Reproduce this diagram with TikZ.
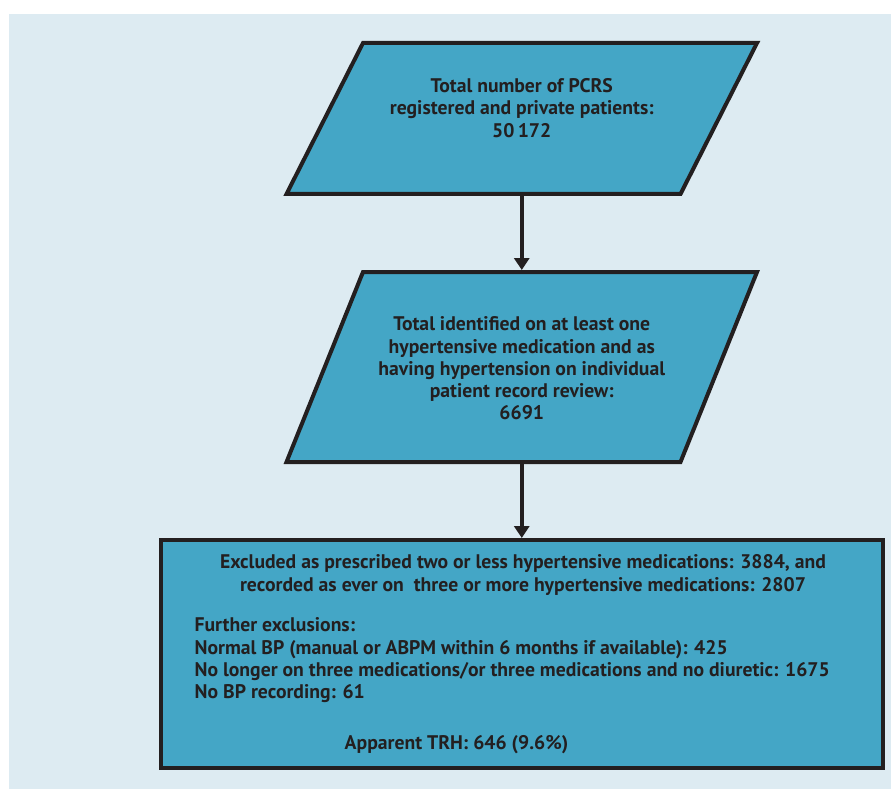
\documentclass[tikz,border=0pt]{standalone}
\usepackage{fontspec}
\setmainfont{PT Sans}
\usepackage{tikz}
\usetikzlibrary{arrows.meta}

\begin{document}
\begin{tikzpicture}[
    flowbox/.style={fill=boxblue, draw=boxline, line width=0.080000cm, line join=miter},
    hidden/.style={inner sep=0pt, outer sep=0pt},
    boxtext/.style={text=boxline, align=center, inner sep=0pt, font=\fontsize{11.2}{12.7}\selectfont\bfseries},
    flowarrow/.style={draw=boxline, line width=0.080000cm, shorten >=0.040000cm, -{Triangle[length=0.240000cm,width=0.300000cm]}}
]
                        % \clip (0,0) rectangle (17.820000,15.780000);
                        \useasboundingbox (0.000000,0.000000) rectangle (17.820000,15.780000);
                        {

                        % Changing colors
                        \definecolor{pagebg}{rgb}{0.866667,0.921569,0.949020}%
                        \definecolor{boxblue}{rgb}{0.266667,0.650980,0.776471}%
                        \definecolor{boxline}{rgb}{0.137255,0.121569,0.125490}%

                        % Drawing background
                        \fill [white] (0.000000,0.000000) rectangle (17.820000,15.780000);%
                        \fill [pagebg] (0.180000,0.000000) rectangle (17.820000,15.500000);%

                        % Drawing parallelogram pcrs
                        \node [hidden, minimum width=7.880000cm, minimum height=3.020000cm] (pcrs) at (10.435000,13.410000) {};%
                        \draw [flowbox] ([xshift=0.765000cm]pcrs.north west) -- ([xshift=0.765000cm]pcrs.north east) -- ([xshift=-0.765000cm]pcrs.south east) -- ([xshift=-0.765000cm]pcrs.south west) -- cycle;%
                        \node [boxtext] (pcrstext) at (10.435000,13.620000) {Total number of PCRS\\registered and private patients:\\50\,172};%

                        % Drawing parallelogram hyper
                        \node [hidden, minimum width=7.880000cm, minimum height=3.800000cm] (hyper) at (10.435000,8.440000) {};%
                        \draw [flowbox] ([xshift=0.765000cm]hyper.north west) -- ([xshift=0.765000cm]hyper.north east) -- ([xshift=-0.765000cm]hyper.south east) -- ([xshift=-0.765000cm]hyper.south west) -- cycle;%
                        \node [boxtext] (hypertext) at (10.435000,8.410000) {Total identified on at least one\\hypertensive medication and as\\having hypertension on individual\\patient record review:\\6691};%

                        % Drawing rectangle trh
                        \node [flowbox, hidden, minimum width=14.430000cm, minimum height=4.550000cm] (trh) at (10.435000,2.705000) {};%
                        \node [boxtext] (excltext) at (10.460000,4.280000) {Excluded as prescribed two or less hypertensive medications: 3884, and\\recorded as ever on\ \ three or more hypertensive medications: 2807};%
                        \node [boxtext, align=left, anchor=west] (furthertext) at (3.886000,2.574000) {Further exclusions:\\Normal BP (manual or ABPM within 6 months if available): 425\\No longer on three medications/or three medications and no diuretic: 1675\\No BP recording: 61};%
                        \node [boxtext] (trhtext) at (9.130000,0.880000) {Apparent TRH: 646 (9.6\%)};%

                        % Drawing arrow pcrs hyper
                        \draw [flowarrow] (pcrs.south) -- (hyper.north);%

                        % Drawing arrow hyper trh
                        \draw [flowarrow] (hyper.south) -- (trh.north);%
                        }
\end{tikzpicture}
\end{document}
